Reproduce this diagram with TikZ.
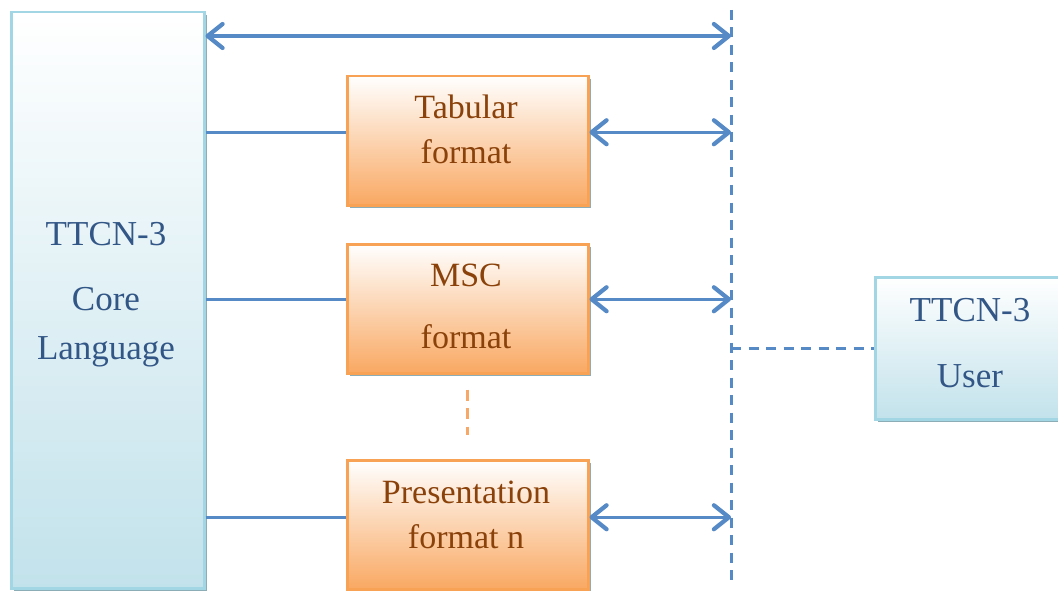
\documentclass[tikz,border=0pt]{standalone}
\usepackage{fontspec}
\setmainfont{Liberation Serif}
\usetikzlibrary{arrows.meta,shadows}

\definecolor{boxblue}{RGB}{162,214,228}
\definecolor{fillblue}{RGB}{194,226,235}
\definecolor{shadowgray}{RGB}{140,172,182}
\definecolor{textblue}{RGB}{50,86,134}
\definecolor{lineblue}{RGB}{86,138,198}
\definecolor{boxorange}{RGB}{247,162,84}
\definecolor{fillorange}{RGB}{249,168,98}
\definecolor{textbrown}{RGB}{138,66,10}
\definecolor{dashorange}{RGB}{247,168,104}

\tikzset{
  bluebox/.style={draw=boxblue, line width=2.5pt, top color=white, bottom color=fillblue,
    drop shadow={shadow xshift=3pt, shadow yshift=-3pt, fill=shadowgray, opacity=1},
    inner sep=0pt},
  orangebox/.style={draw=boxorange, line width=2.5pt, top color=white, bottom color=fillorange,
    drop shadow={shadow xshift=3pt, shadow yshift=-3pt, fill=shadowgray, opacity=1},
    minimum width=241pt, minimum height=129pt, inner sep=0pt},
  bluetext/.style={text=textblue, font=\fontsize{35}{40}\selectfont, anchor=base, inner sep=0pt},
  browntext/.style={text=textbrown, font=\fontsize{34}{40}\selectfont, anchor=base, inner sep=0pt},
  link/.style={draw=lineblue, line width=3.2pt},
  barb/.tip={Straight Barb[length=15pt,width=24pt,line width=4.2pt,round]},
  biarrow/.style={draw=lineblue, line width=3.2pt, barb-barb},
  bluedash/.style={draw=lineblue, line width=3pt, dash pattern=on 10pt off 7.5pt},
  orangedash/.style={draw=dashorange, line width=3pt, dash pattern=on 11pt off 7.5pt},
}

\begin{document}
\begin{tikzpicture}
\useasboundingbox (0,0) rectangle (1058pt,-591pt);
\begin{scope}[x=1pt,y=1pt]

% core language column
\node[bluebox, minimum width=193pt, minimum height=576pt, anchor=north west] (core) at (10,-11) {};
\node[bluetext] (core1) at (106,-245) {TTCN-3};
\node[bluetext] (core2) at (106,-310) {Core};
\node[bluetext] (core3) at (106,-359) {Language};

% presentation formats
\node[orangebox, anchor=north west] (tab) at (346,-75) {};
\node[browntext] (tab1) at (466,-119) {Tabular};
\node[browntext] (tab2) at (466,-164) {format};

\node[orangebox, anchor=north west] (msc) at (346,-243) {};
\node[browntext] (msc1) at (466,-286) {MSC};
\node[browntext] (msc2) at (466,-348) {format};

\node[orangebox, anchor=north west] (pres) at (346,-459) {};
\node[browntext] (pres1) at (466,-503) {Presentation};
\node[browntext] (pres2) at (466,-548) {format n};

% user box
\node[bluebox, minimum width=192pt, minimum height=142pt, anchor=north west] (user) at (874,-276) {};
\node[bluetext] (user1) at (970,-321) {TTCN-3};
\node[bluetext] (user2) at (970,-387) {User};

% interface line
\coordinate (lt) at (731,-10);
\coordinate (lb) at (731,-586);
\draw[bluedash] (lt) -- (lb);
\draw[bluedash] (lt |- user.west) -- (user.west);

% ports on the format boxes
\coordinate (tabin)  at ([yshift=8.5pt]tab.west);
\coordinate (tabout) at ([yshift=8.5pt]tab.east);
\coordinate (mscin)  at ([yshift=9.5pt]msc.west);
\coordinate (mscout) at ([yshift=9.5pt]msc.east);
\coordinate (presin)  at ([yshift=7.5pt]pres.west);
\coordinate (presout) at ([yshift=7.5pt]pres.east);

% connectors
\draw[biarrow] (core.east |- 0,-36) -- (lt |- 0,-36);

\draw[link] (core.east |- tabin) -- (tabin);
\draw[biarrow] (tabout) -- (lt |- tabout);

\draw[link] (core.east |- mscin) -- (mscin);
\draw[biarrow] (mscout) -- (lt |- mscout);

\draw[link] (core.east |- presin) -- (presin);
\draw[biarrow] (presout) -- (lt |- presout);

\draw[orangedash] ([yshift=-15pt]msc.south) -- ([yshift=24pt]pres.north);

\end{scope}
\end{tikzpicture}
\end{document}
